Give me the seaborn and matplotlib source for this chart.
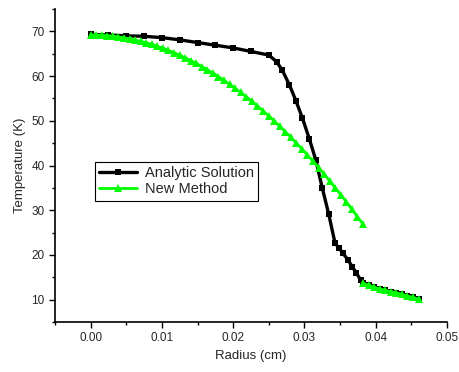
import numpy as np
import pandas as pd
import seaborn as sns
import matplotlib.pyplot as plt
from matplotlib.ticker import MultipleLocator

# Analytic solution (black squares)
analytic_r = [0.0, 0.0025, 0.005, 0.0075, 0.01, 0.0125, 0.015, 0.0175, 0.02, 0.0225,
              0.025, 0.0261, 0.0269, 0.0279, 0.0288, 0.0297, 0.0307, 0.0316, 0.0325,
              0.0334, 0.0343, 0.0349, 0.0354, 0.0361, 0.0367, 0.0373, 0.0379,
              0.03822, 0.039, 0.03978, 0.04056, 0.04134, 0.04212, 0.0429, 0.04368,
              0.04446, 0.04524, 0.04602]
analytic_t = [69.3, 69.2, 69.0, 68.9, 68.6, 68.1, 67.5, 66.9, 66.3, 65.5,
              64.7, 63.2, 61.3, 58.0, 54.5, 50.7, 45.9, 41.2, 35.0,
              29.2, 22.6, 21.5, 20.4, 18.9, 17.4, 15.9, 14.4,
              13.7, 13.2, 12.8, 12.4, 12.1, 11.8, 11.5, 11.2,
              10.8, 10.5, 10.1]

# New method, inner region (green triangles)
new_r_inner = [0.0, 0.00078, 0.00156, 0.00234, 0.00312, 0.0039, 0.00468, 0.00546,
               0.00624, 0.00702, 0.0078, 0.00858, 0.00936, 0.01014, 0.01092, 0.0117,
               0.01248, 0.01326, 0.01404, 0.01482, 0.0156, 0.01638, 0.01716, 0.01794,
               0.01872, 0.0195, 0.02028, 0.02106, 0.02184, 0.02262, 0.0234, 0.02418,
               0.02496, 0.02574, 0.02652, 0.0273, 0.02808, 0.02886, 0.02964, 0.03042,
               0.0312, 0.03198, 0.03276, 0.03354, 0.03432, 0.0351, 0.03588, 0.03666,
               0.03744, 0.03822]
new_t_inner = [69.20, 69.18, 69.13, 69.04, 68.92, 68.76, 68.56, 68.34, 68.07, 67.77,
               67.44, 67.07, 66.66, 66.22, 65.74, 65.23, 64.68, 64.10, 63.48, 62.83,
               62.14, 61.42, 60.66, 59.87, 59.04, 58.17, 57.27, 56.34, 55.37, 54.36,
               53.32, 52.24, 51.13, 49.99, 48.80, 47.59, 46.33, 45.04, 43.72, 42.36,
               40.97, 39.54, 38.08, 36.58, 35.04, 33.47, 31.87, 30.23, 28.55, 26.84]

# New method, outer region
new_r_outer = [0.03822, 0.039, 0.03978, 0.04056, 0.04134, 0.04212, 0.0429, 0.04368,
               0.04446, 0.04524, 0.04602]
new_t_outer = [13.7, 13.2, 12.8, 12.4, 12.1, 11.8, 11.5, 11.2, 10.8, 10.5, 10.1]

sns.set_style("ticks")
plt.rcParams['font.family'] = ['Liberation Sans', 'DejaVu Sans']

fig = plt.figure(figsize=(4.6, 3.72), dpi=100)
ax = fig.add_axes([0.1196, 0.1344, 0.852, 0.8414])

df_a = pd.DataFrame({'r': analytic_r, 'T': analytic_t})
df_in = pd.DataFrame({'r': new_r_inner, 'T': new_t_inner})
df_out = pd.DataFrame({'r': new_r_outer, 'T': new_t_outer})

sns.lineplot(data=df_a, x='r', y='T', ax=ax, color='black', linewidth=2.4,
             marker='s', markersize=4, markeredgewidth=0, sort=False,
             estimator=None, label='Analytic Solution', zorder=2)
sns.lineplot(data=df_in, x='r', y='T', ax=ax, color='#00ff00', linewidth=2.0,
             marker='^', markersize=5.5, markeredgewidth=0, sort=False,
             estimator=None, label='New Method', zorder=3)
sns.lineplot(data=df_out, x='r', y='T', ax=ax, color='#00ff00', linewidth=2.0,
             marker='^', markersize=5.5, markeredgewidth=0, sort=False,
             estimator=None, zorder=3)

ax.set_xlim(-0.005, 0.05)
ax.set_ylim(5, 75)
ax.xaxis.set_major_locator(MultipleLocator(0.01))
ax.xaxis.set_minor_locator(MultipleLocator(0.005))
ax.yaxis.set_major_locator(MultipleLocator(10))
ax.yaxis.set_minor_locator(MultipleLocator(5))
ax.set_xticks([0.0, 0.01, 0.02, 0.03, 0.04, 0.05])
ax.set_xticklabels(['0.00', '0.01', '0.02', '0.03', '0.04', '0.05'])
ax.tick_params(which='major', length=4, width=1, labelsize=8.5, direction='out', color='black')
ax.tick_params(which='minor', length=2.5, width=1, direction='out', color='black')
for s in ['left', 'bottom']:
    ax.spines[s].set_color('black')
    ax.spines[s].set_linewidth(1.2)
sns.despine(ax=ax)

ax.set_xlabel('Radius (cm)', fontsize=9.5)
ax.set_ylabel('Temperature (K)', fontsize=9.5)

leg = ax.legend(loc='lower left', bbox_to_anchor=(0.102, 0.387), fontsize=10.5,
                frameon=True, fancybox=False, framealpha=1, edgecolor='black',
                handlelength=2.6, borderpad=0.3, labelspacing=0.15, handletextpad=0.5,
                borderaxespad=0)
leg.get_frame().set_linewidth(0.8)

fig.savefig('out.png', dpi=100)
